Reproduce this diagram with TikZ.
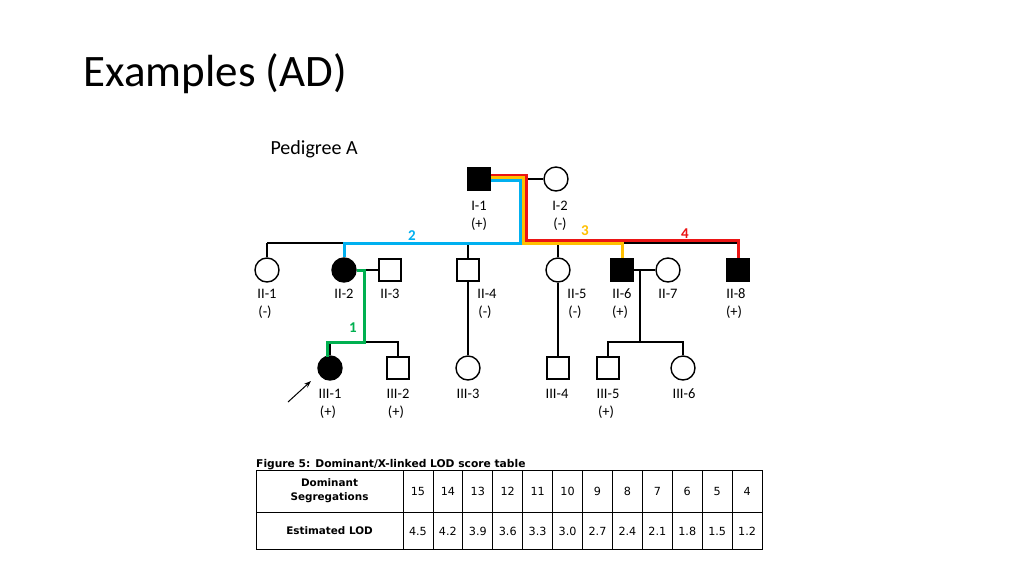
\documentclass[tikz,border=0pt]{standalone}
\usepackage{fontspec}
\setmainfont{Carlito}[Numbers=Lining]
\newfontfamily\tabfont{DejaVu Sans}
\usetikzlibrary{arrows.meta}
\definecolor{segblue}{RGB}{0,176,240}
\definecolor{segyellow}{RGB}{255,192,0}
\definecolor{segred}{RGB}{235,20,20}
\definecolor{seggreen}{RGB}{0,176,80}

\begin{document}
\begin{tikzpicture}[x=1pt,y=-1pt,
  male/.style={rectangle,draw,line width=1.4pt,minimum size=22pt,inner sep=0pt},
  female/.style={circle,draw,line width=1.4pt,minimum size=24pt,inner sep=0pt},
  aff/.style={fill=black},
  lab/.style={anchor=base,inner sep=0pt,font=\fontsize{14.5}{17}\selectfont},
  pline/.style={line width=1.4pt},
  seg/.style={line width=3pt},
  segnum/.style={inner sep=0pt,font=\fontsize{15}{17}\selectfont\bfseries},
  cell/.style={inner sep=0pt,font=\tabfont\fontsize{10.4}{14}\selectfont},
  num/.style={inner sep=0pt,font=\tabfont\fontsize{11.2}{14}\selectfont}]
\useasboundingbox[fill=white] (0,0) rectangle (1024,576);

\node[anchor=base west] (title) at (80,86) {\fontsize{45}{50}\selectfont Examples (AD)};
\node[anchor=base west] (ped) at (267,154) {\fontsize{20}{22}\selectfont Pedigree A};

% generation I
\node[male,aff] (i1) at (479,179) {};
\node[female] (i2) at (556,179) {};
\node[lab] at (479,210) {I-1};
\node[lab] at (479,228) {(+)};
\node[lab] at (560,210) {I-2};
\node[lab] at (560,228) {(-)};

% generation II
\node[female] (ii1) at (267,270) {};
\node[female,aff] (ii2) at (344,270) {};
\node[male] (ii3) at (390,270) {};
\node[male] (ii4) at (468,270) {};
\node[female] (ii5) at (558,270) {};
\node[male,aff] (ii6) at (622,270) {};
\node[female] (ii7) at (668,270) {};
\node[male,aff] (ii8) at (738,270) {};
\node[lab] at (267,298) {II-1};
\node[lab] at (265,316) {(-)};
\node[lab] at (344,298) {II-2};
\node[lab] at (390,298) {II-3};
\node[lab] at (487,298) {II-4};
\node[lab] at (485,316) {(-)};
\node[lab] at (577,298) {II-5};
\node[lab] at (575,316) {(-)};
\node[lab] at (622,298) {II-6};
\node[lab] at (620,316) {(+)};
\node[lab] at (668,298) {II-7};
\node[lab] at (736,298) {II-8};
\node[lab] at (734,316) {(+)};

% generation III
\node[female,aff] (iii1) at (330,368) {};
\node[male] (iii2) at (398,368) {};
\node[female] (iii3) at (468,368) {};
\node[male] (iii4) at (558,368) {};
\node[male] (iii5) at (608,368) {};
\node[female] (iii6) at (683,368) {};
\node[lab] at (330,398) {III-1};
\node[lab] at (328,416) {(+)};
\node[lab] at (398,398) {III-2};
\node[lab] at (396,416) {(+)};
\node[lab] at (468,398) {III-3};
\node[lab] at (557,398) {III-4};
\node[lab] at (608,398) {III-5};
\node[lab] at (606,416) {(+)};
\node[lab] at (684,398) {III-6};

\coordinate (sibL) at (267,243);
\coordinate (sibR) at (738,243);
\coordinate (d2) at (364,342);
\coordinate (d6) at (640,342);
\coordinate (arrtail) at (288,402);
\coordinate (arrtip) at (311,381);

% black lines
\draw[pline] (i1.east) -- (i2.west);
\draw[pline] (sibL) -- (sibR);
\foreach \n in {ii1,ii2,ii4,ii5,ii6,ii8}
  \draw[pline] (\n.north) -- (\n.north |- sibL);
\draw[pline] (ii2.east) -- (ii3.west);
\draw[pline] (ii6.east) -- (ii7.west);
\draw[pline] (ii4.south) -- (iii3.north);
\draw[pline] (ii5.south) -- (iii4.north);
\draw[pline] (d2 |- ii2) -- (d2) -| (iii2.north);
\draw[pline] (d2) -| (iii1.north);
\draw[pline] (d6 |- ii6) -- (d6);
\draw[pline] (iii5.north) |- (d6) -| (iii6.north);

% segregations
\draw[seg,segred] ([yshift=4pt]i1.east) -- (526.5,175) -- (526.5,240) -| (ii8.north);
\draw[seg,segyellow] ([yshift=1.7pt]i1.east) -- (523.5,177.3) -- (523.5,243) -| (ii6.north);
\draw[seg,segblue] ([yshift=-1.7pt]i1.east) -- (520.5,180.7) -- (520.5,243) -| (ii2.north);
\draw[seg,seggreen] (ii2.east) -- (364,270) -- (d2) -- (327,342) -- (327,357);
\node[segnum,segblue] at (412,236) {2};
\node[segnum,segyellow] at (585,231) {3};
\node[segnum,segred] at (685,234) {4};
\node[segnum,seggreen] at (353,328) {1};

\draw[line width=1pt,-{Stealth[length=7pt,width=5pt]}] (arrtail) -- (arrtip);

% LOD table
\node[anchor=base west,inner sep=0pt] (cap) at (256,467)
  {\tabfont\bfseries\fontsize{10.7}{12}\selectfont Figure 5: Dominant/X-linked LOD score table};
\draw[line width=0.8pt] (256,470) rectangle (762,549);
\draw[line width=0.8pt] (256,512) -- (762,512);
\draw[line width=0.8pt] (403,470) -- (403,549);
\node[cell,align=center] (seghead) at (329.5,491) {\bfseries Dominant\\\bfseries Segregations};
\node[cell] (lodhead) at (329.5,531) {\bfseries Estimated LOD};
\foreach \s/\l [count=\i] in {15/4.5,14/4.2,13/3.9,12/3.6,11/3.3,10/3.0,9/2.7,8/2.4,7/2.1,6/1.8,5/1.5,4/1.2} {
  \node[num] (seg\i) at (403+29.92*\i-14.96,491) {\s};
  \node[num] (lod\i) at (403+29.92*\i-14.96,531) {\l};
  \draw[line width=0.8pt] (403+29.92*\i,470) -- (403+29.92*\i,549);
}
\end{tikzpicture}
\end{document}
